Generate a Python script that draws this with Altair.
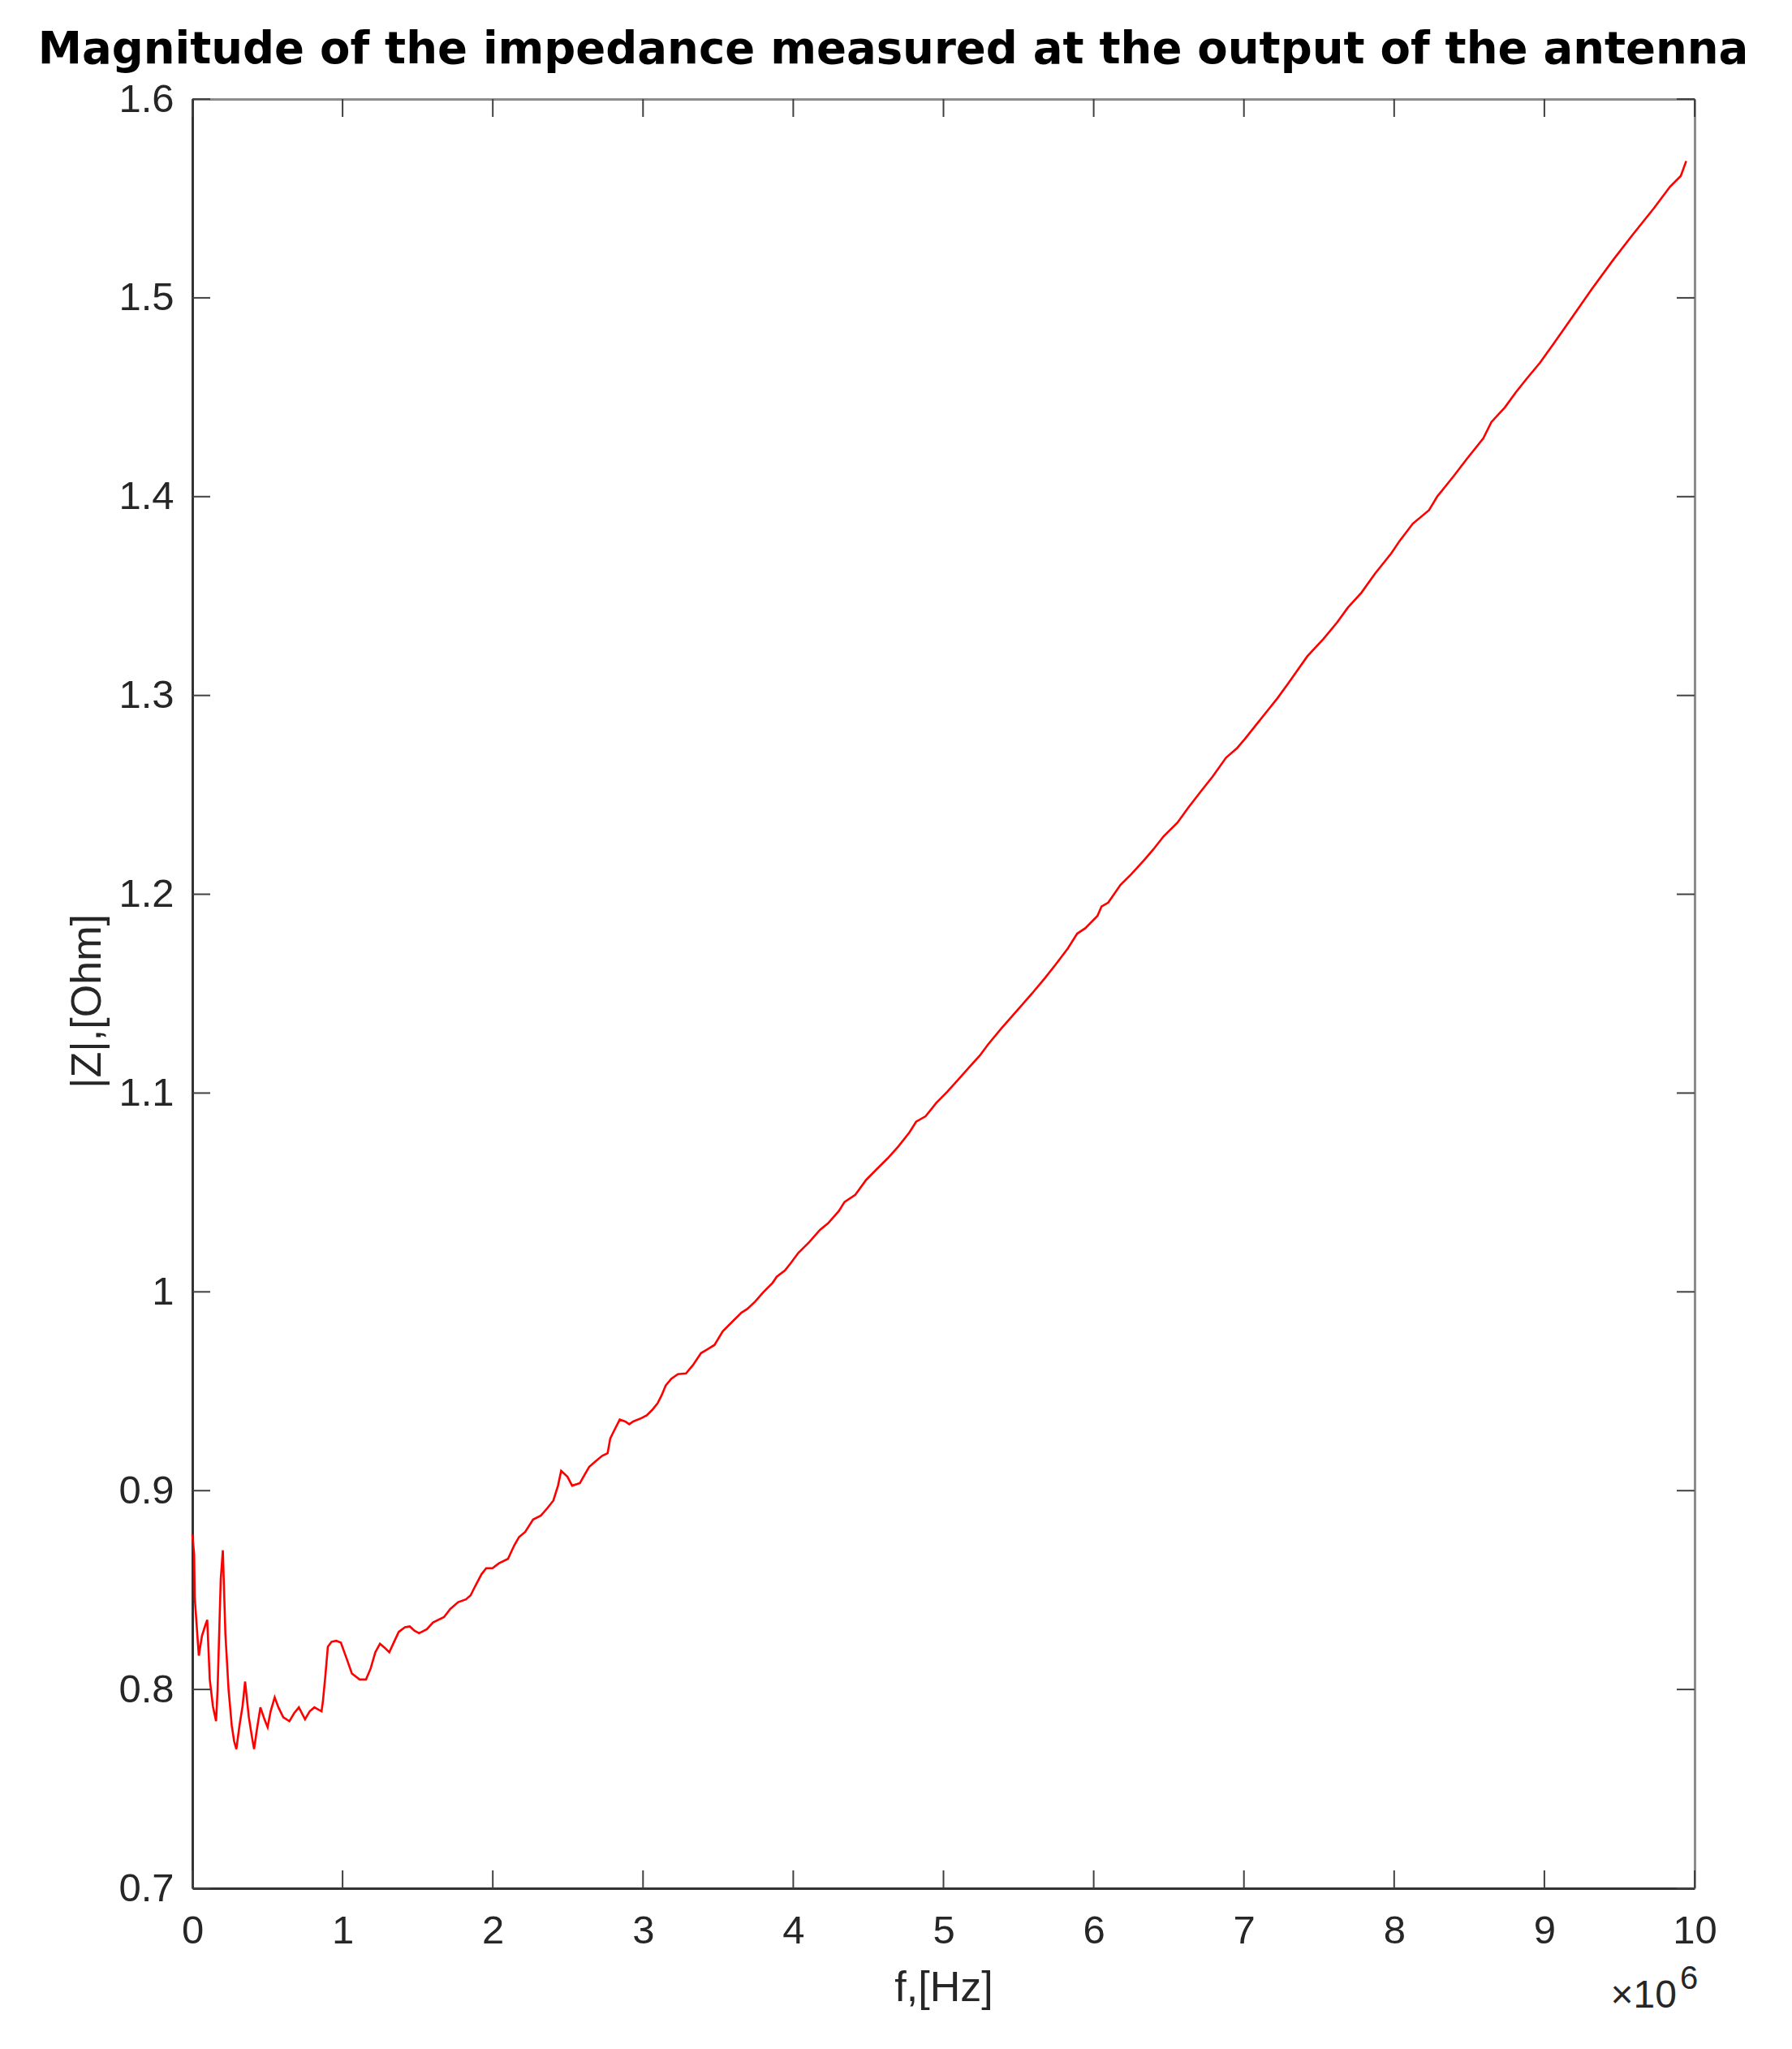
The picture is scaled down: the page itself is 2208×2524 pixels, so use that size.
import altair as alt
import pandas as pd

# ---- data (frequency in units of 10^6 Hz, |Z| in Ohm) ----
freq_mhz = [
    0.000, 0.012, 0.016, 0.043, 0.064, 0.085, 0.099, 0.116, 0.137, 0.158,
    0.168, 0.189, 0.203, 0.220, 0.241, 0.262, 0.278, 0.293, 0.314, 0.334,
    0.351, 0.376, 0.397, 0.411, 0.428, 0.453, 0.480, 0.501, 0.521, 0.548,
    0.573, 0.605, 0.646, 0.677, 0.709, 0.750, 0.781, 0.812, 0.860, 0.869,
    0.885, 0.902, 0.927, 0.958, 0.989, 1.031, 1.062, 1.114, 1.156, 1.187,
    1.218, 1.249, 1.280, 1.311, 1.343, 1.374, 1.415, 1.447, 1.478, 1.509,
    1.561, 1.602, 1.675, 1.717, 1.769, 1.821, 1.852, 1.883, 1.925, 1.956,
    1.998, 2.039, 2.101, 2.143, 2.174, 2.216, 2.268, 2.320, 2.361, 2.403,
    2.434, 2.455, 2.497, 2.528, 2.580, 2.611, 2.642, 2.683, 2.728, 2.764,
    2.782, 2.809, 2.845, 2.881, 2.908, 2.935, 2.989, 3.025, 3.061, 3.097,
    3.124, 3.151, 3.188, 3.232, 3.286, 3.332, 3.386, 3.422, 3.476, 3.530,
    3.584, 3.656, 3.692, 3.746, 3.800, 3.863, 3.890, 3.944, 3.980, 4.034,
    4.106, 4.178, 4.232, 4.304, 4.341, 4.413, 4.485, 4.557, 4.629, 4.701,
    4.773, 4.818, 4.881, 4.953, 5.025, 5.097, 5.169, 5.242, 5.296, 5.385,
    5.512, 5.584, 5.674, 5.746, 5.827, 5.890, 5.944, 6.025, 6.052, 6.097,
    6.178, 6.250, 6.341, 6.395, 6.466, 6.557, 6.629, 6.719, 6.791, 6.881,
    6.953, 7.007, 7.079, 7.151, 7.223, 7.295, 7.422, 7.530, 7.620, 7.692,
    7.782, 7.872, 7.980, 8.035, 8.124, 8.232, 8.286, 8.395, 8.485, 8.593,
    8.647, 8.737, 8.809, 8.881, 8.971, 9.061, 9.187, 9.314, 9.458, 9.584,
    9.728, 9.836, 9.908, 9.944,
]
z_ohm = [
    0.878, 0.868, 0.846, 0.817, 0.827, 0.832, 0.835, 0.805, 0.7915, 0.784,
    0.800, 0.8555, 0.870, 0.828, 0.800, 0.782, 0.774, 0.770, 0.782, 0.7915,
    0.804, 0.786, 0.776, 0.770, 0.779, 0.791, 0.785, 0.781, 0.789, 0.796,
    0.791, 0.786, 0.784, 0.788, 0.791, 0.785, 0.789, 0.791, 0.789, 0.794,
    0.8065, 0.8215, 0.824, 0.8245, 0.8235, 0.8147, 0.808, 0.805, 0.805, 0.8106,
    0.8187, 0.823, 0.821, 0.8187, 0.824, 0.829, 0.8313, 0.8317, 0.8296, 0.8283,
    0.8303, 0.8337, 0.8364, 0.8405, 0.8439, 0.8453, 0.8473, 0.852, 0.858, 0.861,
    0.861, 0.8634, 0.8657, 0.8725, 0.8766, 0.8793, 0.8855, 0.8875, 0.891, 0.895,
    0.9025, 0.910, 0.907, 0.9025, 0.9038, 0.908, 0.912, 0.9147, 0.9175, 0.9188,
    0.9263, 0.9304, 0.9358, 0.9348, 0.9334, 0.9348, 0.9365, 0.9379, 0.9406, 0.944,
    0.948, 0.9529, 0.9563, 0.9586, 0.959, 0.9631, 0.9692, 0.9708, 0.9733, 0.9801,
    0.9842, 0.9896, 0.9913, 0.9951, 0.9998, 1.0046, 1.0076, 1.0107, 1.0141, 1.0196,
    1.025, 1.0312, 1.0345, 1.0407, 1.0452, 1.0488, 1.0563, 1.0618, 1.0672, 1.0733,
    1.0802, 1.0856, 1.0883, 1.0951, 1.1006, 1.1067, 1.1128, 1.1189, 1.1244, 1.1325,
    1.1434, 1.1496, 1.1577, 1.1646, 1.1727, 1.1802, 1.1829, 1.1891, 1.1938, 1.1958,
    1.2047, 1.2101, 1.2176, 1.2224, 1.2292, 1.236, 1.2435, 1.2523, 1.2591, 1.2687,
    1.2734, 1.2782, 1.285, 1.2918, 1.2986, 1.3061, 1.3197, 1.3285, 1.3367, 1.3442,
    1.3517, 1.3612, 1.3714, 1.3776, 1.3864, 1.3932, 1.4, 1.4102, 1.4191, 1.4293,
    1.4375, 1.4449, 1.4524, 1.4592, 1.4674, 1.4769, 1.4905, 1.5042, 1.5191, 1.5314,
    1.545, 1.5559, 1.5613, 1.5688,
]
x_ticks = [0, 1, 2, 3, 4, 5, 6, 7, 8, 9, 10]
y_ticks = [0.7, 0.8, 0.9, 1.0, 1.1, 1.2, 1.3, 1.4, 1.5, 1.6]
x_domain = [0, 10]
y_domain = [0.7, 1.6]
title_text = "Magnitude of the impedance measured at the output of the antenna"
x_title = "f,[Hz]"
y_title = "|Z|,[Ohm]"
multiplier_base = ["×10"]
multiplier_exp = ["6"]

# ---- layout / style ----
W, H = 1851, 2204
TICK = 22
FONT = "Liberation Sans"
TXT = "#262626"
DARK = "#333333"
LIGHT = "#8c8c8c"

df = pd.DataFrame({"f": freq_mhz, "z": z_ohm})
xt = pd.DataFrame({"v": x_ticks})
yt = pd.DataFrame({"v": y_ticks})

xscale = alt.Scale(domain=x_domain, nice=False, zero=False)
yscale = alt.Scale(domain=y_domain, nice=False, zero=False)

line = alt.Chart(df).mark_line(color="#ff0000", strokeWidth=2.6).encode(
    x=alt.X(
        "f:Q", scale=xscale,
        axis=alt.Axis(
            orient="bottom", values=x_ticks, format="d", title=x_title,
            ticks=False, tickSize=0, grid=False,
            domain=True, domainColor=DARK, domainWidth=3,
            labelFont=FONT, labelFontSize=49, labelColor=TXT, labelPadding=28,
            labelFlush=False, labelOverlap=False,
            titleFont=FONT, titleFontSize=52, titleFontWeight="normal", titleColor=TXT,
            titleBaseline="alphabetic", titleY=138,
        ),
    ),
    y=alt.Y(
        "z:Q", scale=yscale,
        axis=alt.Axis(
            orient="left", values=y_ticks, format=".1~f", title=y_title,
            ticks=False, tickSize=0, grid=False,
            domain=True, domainColor=DARK, domainWidth=3,
            labelFont=FONT, labelFontSize=49, labelColor=TXT, labelPadding=23,
            labelFlush=False, labelOverlap=False,
            titleFont=FONT, titleFontSize=52, titleFontWeight="normal", titleColor=TXT,
            titleBaseline="alphabetic", titleAngle=270, titleX=-114, titleY=1111,
        ),
    ),
)

tick_style = dict(color="#404040", strokeWidth=2)

bottom_ticks = alt.Chart(xt).mark_rule(**tick_style).encode(
    x=alt.X("v:Q", scale=xscale, axis=None),
    y=alt.value(H), y2=alt.value(H - TICK),
)
top_ticks = alt.Chart(xt).mark_rule(**tick_style).encode(
    x=alt.X("v:Q", scale=xscale,
            axis=alt.Axis(orient="top", labels=False, ticks=False, tickSize=0, grid=False,
                          domain=True, domainColor=LIGHT, domainWidth=3, title=None)),
    y=alt.value(0), y2=alt.value(TICK),
)
left_ticks = alt.Chart(yt).mark_rule(**tick_style).encode(
    y=alt.Y("v:Q", scale=yscale, axis=None),
    x=alt.value(0), x2=alt.value(TICK),
)
right_ticks = alt.Chart(yt).mark_rule(**tick_style).encode(
    y=alt.Y("v:Q", scale=yscale,
            axis=alt.Axis(orient="right", labels=False, ticks=False, tickSize=0, grid=False,
                          domain=True, domainColor=LIGHT, domainWidth=3, title=None)),
    x=alt.value(W), x2=alt.value(W - TICK),
)

mult_base = alt.Chart(pd.DataFrame({"t": multiplier_base})).mark_text(
    font=FONT, fontSize=48, color=TXT, align="right", baseline="alphabetic"
).encode(text="t:N", x=alt.value(W - 22), y=alt.value(H + 147))
mult_exp = alt.Chart(pd.DataFrame({"t": multiplier_exp})).mark_text(
    font=FONT, fontSize=40, color=TXT, align="left", baseline="alphabetic"
).encode(text="t:N", x=alt.value(W - 18), y=alt.value(H + 124))

chart = alt.layer(
    line, bottom_ticks, top_ticks, left_ticks, right_ticks, mult_base, mult_exp
).resolve_axis(
    x="independent", y="independent"
).properties(
    width=W, height=H,
    title=alt.TitleParams(
        text=title_text, font="DejaVu Sans", fontSize=54.5, fontWeight="bold",
        color="#000000", anchor="middle", baseline="alphabetic", offset=36,
        dy=70, dx=-62,
    ),
    autosize=alt.AutoSizeParams(type="none"),
    padding={"left": 229, "top": 114, "right": 100, "bottom": 170},
).configure_view(strokeWidth=0)

chart.save("out.html", embed_options={"renderer": "svg", "actions": False})
